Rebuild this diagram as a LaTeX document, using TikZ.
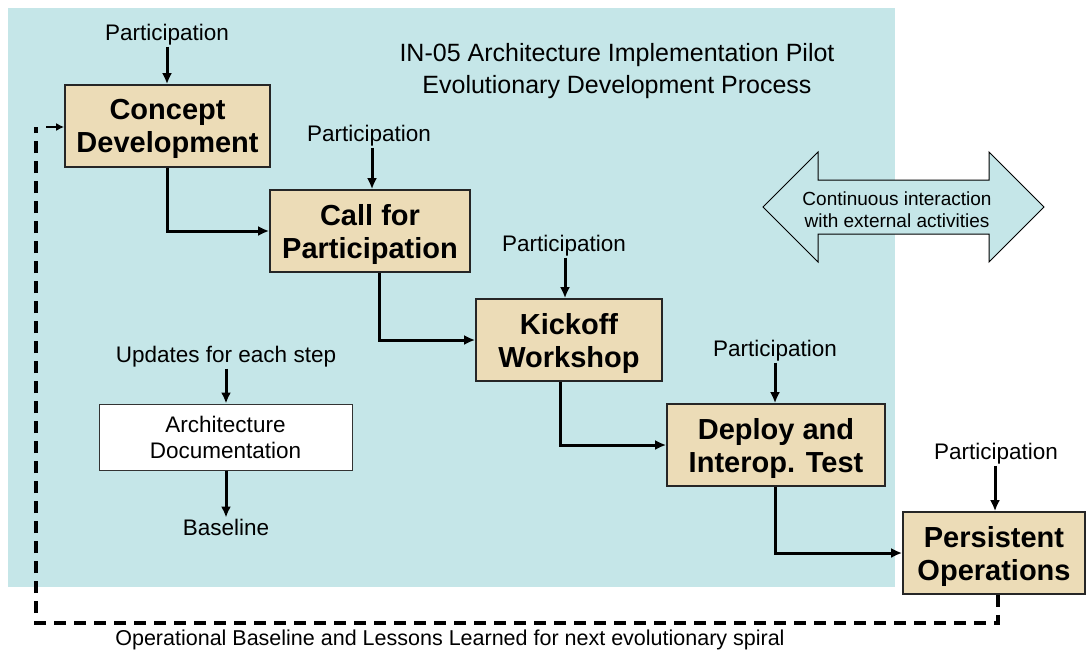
\documentclass[tikz,border=0pt]{standalone}
\usepackage{fontspec}
\setmainfont{Liberation Sans}
\usetikzlibrary{arrows.meta}
\definecolor{bgc}{RGB}{197,230,232}
\definecolor{parch}{RGB}{236,220,183}
\begin{document}
\begin{tikzpicture}[x=1pt,y=-1pt,
  stepbox/.style={draw=black!85, line width=1.7pt, fill=parch, align=center, inner sep=0pt,
    minimum height=82, text depth=0pt, font=\fontsize{29}{33}\selectfont\bfseries},
  lbl/.style={font=\fontsize{22.5}{26}\selectfont, inner sep=1pt, align=center},
  arr/.style={-{Latex[length=11,width=10]}, line width=3pt},
  dashline/.style={line width=3.2pt, dash pattern=on 12pt off 8pt}]
\useasboundingbox (0,0) rectangle (1086,653);
\fill[bgc] (8,8) rectangle (895,587);

% title
\node[lbl, font=\fontsize{25}{32}\selectfont] (title) at (617,71) {IN-05 Architecture Implementation Pilot\\Evolutionary Development Process};

% double arrow
\draw[fill=bgc, line width=1pt, line join=miter] (763,207) -- (818,152) -- (818,180) -- (989,180) -- (989,152) -- (1044,207) -- (989,262) -- (989,234) -- (818,234) -- (818,262) -- cycle;
\node[lbl, font=\fontsize{19}{22}\selectfont] (ext) at (897,210) {Continuous interaction\\with external activities};

% process boxes
\node[stepbox, minimum width=205] (cd) at (167.5,126) {Concept\\Development};
\node[stepbox, minimum width=200] (cfp) at (370,231) {Call for\\Participation};
\node[stepbox, minimum width=186] (kw) at (569,340) {Kickoff\\Workshop};
\node[stepbox, minimum width=218] (dit) at (776,445) {Deploy and\\Interop. Test};
\node[stepbox, minimum width=182] (po) at (994,553) {Persistent\\Operations};

% participation labels
\node[lbl] (p1) at (167,35) {Participation};
\node[lbl] (p2) at (369,136) {Participation};
\node[lbl] (p3) at (564,246) {Participation};
\node[lbl] (p4) at (775,351) {Participation};
\node[lbl] (p5) at (996,454) {Participation};

\draw[arr] (p1.south -| 167,0) -- (cd.north -| 167,0);
\draw[arr] (p2.south -| 372,0) -- (cfp.north -| 372,0);
\draw[arr] (p3.south -| 565,0) -- (kw.north -| 565,0);
\draw[arr] (p4.south -| 775,0) -- (dit.north -| 775,0);
\draw[arr] (p5.south -| 995,0) -- (po.north -| 995,0);

% flow connectors
\draw[arr] (cd.south -| 167,0) |- (cfp.west);
\draw[arr] (cfp.south -| 379,0) |- (kw.west);
\draw[arr] (kw.south -| 560,0) |- (dit.west);
\draw[arr] (dit.south -| 775,0) |- (po.west);

% architecture documentation
\node[lbl] (upd) at (226,357) {Updates for each step};
\node[draw=black!80, line width=1pt, fill=white, minimum width=253, minimum height=66, inner sep=0pt,
  align=center, font=\fontsize{22.5}{26}\selectfont] (ad) at (225.5,437) {Architecture\\Documentation};
\node[lbl] (base) at (226,527) {Baseline};
\draw[arr] (upd.south -| 226,0) -- (ad.north -| 226,0);
\draw[arr] (ad.south -| 226,0) -- (base.north -| 226,0);

% feedback loop
\coordinate (c1) at (998,623);
\coordinate (c2) at (36,623);
\coordinate (c3) at (36,127);
\coordinate (c4) at (46,127);
\draw[dashline] (po.south -| c1) -- (c1) -- (c2) -- (c3);
\draw[-{Latex[length=8,width=8]}, line width=2.6pt] (c4) -- (cd.west |- c4);
\node[lbl, font=\fontsize{21.5}{24}\selectfont] (fb) at (450,640) {Operational Baseline and Lessons Learned for next evolutionary spiral};
\end{tikzpicture}
\end{document}
